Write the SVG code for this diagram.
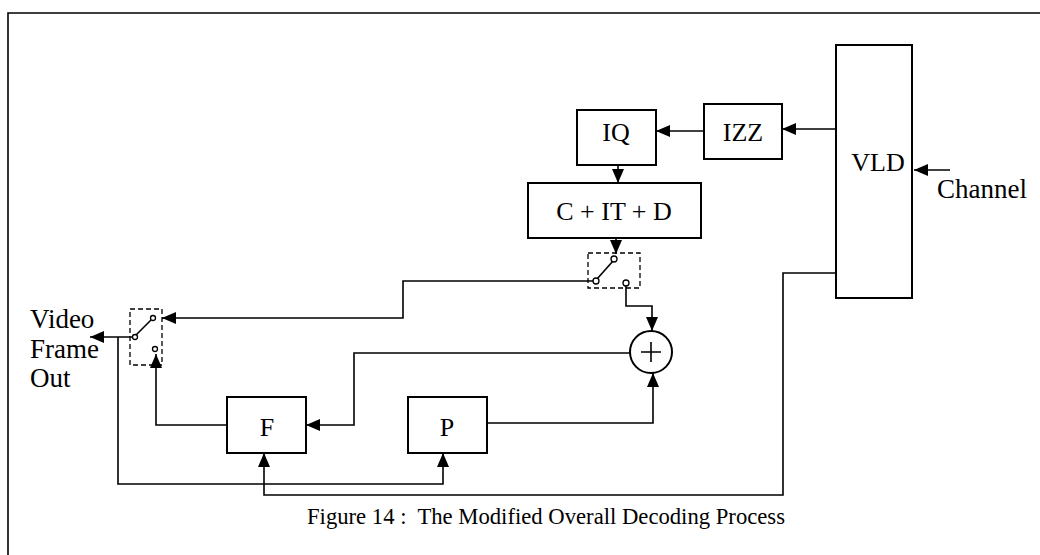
<svg xmlns="http://www.w3.org/2000/svg" width="1040" height="555" viewBox="0 0 1040 555">
<style>
.box{fill:#fff;stroke:#000;stroke-width:2}
.ln{fill:none;stroke:#000;stroke-width:1.6}
.dash{fill:none;stroke:#000;stroke-width:1.3;stroke-dasharray:5,3}
.ct{fill:#fff;stroke:#000;stroke-width:1.3}
.t{font-family:"Liberation Serif","Times New Roman",serif;fill:#000}
.lbl{font-size:26px;text-anchor:middle}
</style>
<defs>
<marker id="ah" viewBox="0 0 14 12" refX="14" refY="6" markerWidth="14" markerHeight="12" markerUnits="userSpaceOnUse" orient="auto">
<path d="M0,0 L14,6 L0,12 Z" fill="#000"/>
</marker>
</defs>
<rect width="1040" height="555" fill="#fff"/>
<path class="ln" d="M8,555 L8,13 L1040,13" stroke-width="2"/>

<g id="connectors">
<path class="ln" d="M836,129 L782,129" marker-end="url(#ah)"/>
<path class="ln" d="M704,131 L656,131" marker-end="url(#ah)"/>
<path class="ln" d="M618,165 L618,183" marker-end="url(#ah)"/>
<path class="ln" d="M616,238 L616,254" marker-end="url(#ah)"/>
<path class="ln" d="M593,281 L403,281 L403,318 L162,318" marker-end="url(#ah)"/>
<path class="ln" d="M626,286 L626,306 L652,306 L652,331" marker-end="url(#ah)"/>
<path class="ln" d="M630,353 L354,353 L354,425 L306,425" marker-end="url(#ah)"/>
<path class="ln" d="M487,423 L653,423 L653,373" marker-end="url(#ah)"/>
<path class="ln" d="M227,425 L156,425 L156,354" marker-end="url(#ah)"/>
<path class="ln" d="M132,337 L90,337" marker-end="url(#ah)"/>
<path class="ln" d="M118,337 L118,484 L443,484 L443,453" marker-end="url(#ah)"/>
<path class="ln" d="M836,273 L783,273 L783,495 L264,495 L264,453" marker-end="url(#ah)"/>
<path class="ln" d="M950,170 L914,170" marker-end="url(#ah)"/>
</g>

<g id="VLD">
<rect class="box" x="836" y="45" width="76" height="253"/>
<text class="t lbl" x="878" y="171">VLD</text>
</g>
<g id="channel">
<text class="t" x="937" y="198" font-size="27">Channel</text>
</g>
<g id="IZZ">
<rect class="box" x="704" y="104" width="78" height="55"/>
<text class="t lbl" x="743" y="141">IZZ</text>
</g>
<g id="IQ">
<rect class="box" x="577" y="110" width="79" height="55"/>
<text class="t lbl" x="616" y="141">IQ</text>
</g>
<g id="CITD">
<rect class="box" x="528" y="183" width="173" height="55"/>
<text class="t lbl" x="614" y="220">C + IT + D</text>
</g>
<g id="switch1">
<rect class="dash" x="588" y="253" width="52" height="35"/>
<line class="ln" x1="597" y1="279" x2="613" y2="261" stroke-width="1.3"/>
<circle class="ct" cx="614" cy="259" r="3"/>
<circle class="ct" cx="596" cy="281" r="3"/>
<circle class="ct" cx="626" cy="283" r="3"/>
</g>
<g id="switch2">
<rect class="dash" x="130" y="309" width="32" height="56"/>
<line class="ln" x1="136" y1="335" x2="151" y2="320" stroke-width="1.3"/>
<circle class="ct" cx="135" cy="337" r="2.5"/>
<circle class="ct" cx="153" cy="318" r="2.5"/>
<circle class="ct" cx="155" cy="349" r="2.5"/>
</g>
<g id="adder">
<circle class="box" cx="651" cy="352" r="21" stroke-width="1.5"/>
<path class="ln" d="M641,352 L661,352 M651,342 L651,362" stroke-width="1.3"/>
</g>
<g id="F">
<rect class="box" x="227" y="397" width="79" height="56"/>
<text class="t lbl" x="267" y="436">F</text>
</g>
<g id="P">
<rect class="box" x="408" y="397" width="79" height="56"/>
<text class="t lbl" x="447" y="436">P</text>
</g>
<g id="output">
<text class="t" x="30" y="328" font-size="27">Video</text>
<text class="t" x="30" y="358" font-size="27">Frame</text>
<text class="t" x="30" y="387" font-size="27">Out</text>
</g>
<g id="caption">
<text class="t" x="307" y="524" font-size="24" textLength="478" lengthAdjust="spacingAndGlyphs" xml:space="preserve">Figure 14 :  The Modified Overall Decoding Process</text>
</g>
</svg>
